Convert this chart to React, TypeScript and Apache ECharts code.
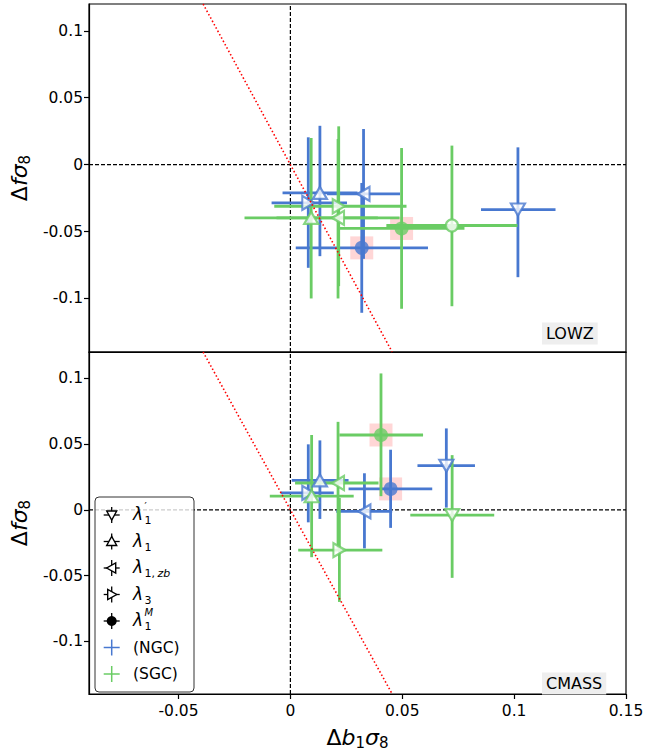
import React, { useEffect, useRef } from "react";
import * as echarts from "echarts";

// ---------- data ----------
// each row: [x, y, xLow, xHigh, yLow, yHigh]
// marker order: l1p (λ'1), l1 (λ1), l1zb (λ1,zb), l3 (λ3), l1M (λ1^M)
const MARKER_KEYS = ["l1p", "l1", "l1zb", "l3", "l1M"];

const LOWZ_NGC = [
  [0.1017, -0.0336, 0.0852, 0.1185, -0.0841, 0.0129],
  [0.0132, -0.0211, -0.0035, 0.03, -0.0684, 0.029],
  [0.0327, -0.0219, 0.0164, 0.049, -0.0704, 0.0266],
  [0.008, -0.0286, -0.0084, 0.0253, -0.0771, 0.0204],
  [0.0319, -0.0622, 0.0024, 0.0615, -0.1107, -0.0137],
];
const LOWZ_SGC = [
  null,
  [0.0093, -0.0398, -0.0205, 0.0391, -0.1, 0.0199],
  [0.0213, -0.0398, -0.0062, 0.0488, -0.1, 0.0192],
  [0.0216, -0.0311, -0.0072, 0.0519, -0.0908, 0.0286],
  [0.0497, -0.0477, 0.0216, 0.0778, -0.1077, 0.0124],
];
// extra open-circle point in LOWZ (SGC)
const LOWZ_SGC_OPEN = [[0.0722, -0.0455, 0.0429, 0.1015, -0.1058, 0.0142]];

const CMASS_NGC = [
  [0.0697, 0.0336, 0.0568, 0.0825, 0.0017, 0.0619],
  [0.0132, 0.0224, 0.0006, 0.026, -0.0069, 0.0528],
  [0.0331, -0.0012, 0.0205, 0.0455, -0.0293, 0.0278],
  [0.008, 0.0129, -0.0043, 0.0194, -0.0095, 0.0498],
  [0.0448, 0.0159, 0.026, 0.0634, -0.0137, 0.0457],
];
const CMASS_SGC = [
  [0.0723, -0.004, 0.0536, 0.0911, -0.0517, 0.0416],
  [0.0095, 0.0104, -0.0092, 0.0283, -0.036, 0.0569],
  [0.0213, 0.0204, 0.0021, 0.0394, -0.0293, 0.0669],
  [0.0219, -0.0306, 0.0035, 0.0411, -0.07, 0.009],
  [0.0405, 0.0569, 0.0219, 0.0593, 0.0104, 0.1037],
];

const RED_LINE = [
  [-0.039, 0.12],
  [0.0455, -0.14],
];
const X_RANGE = [-0.09, 0.15];
const Y_RANGE = [-0.14, 0.12];
const X_TICKS = [-0.05, 0, 0.05, 0.1, 0.15];
const Y_TICKS = [-0.1, -0.05, 0, 0.05, 0.1];
const PANEL_LABELS = ["LOWZ", "CMASS"];

// ---------- styles ----------
const BLUE = "#4878d0";
const GREEN = "#6acc64";
const FONT = "DejaVu Sans";

const SYMBOLS: Record<string, any> = {
  l1p: { symbol: "triangle", rotate: 180, open: true },
  l1: { symbol: "triangle", rotate: 0, open: true },
  l1zb: { symbol: "triangle", rotate: 90, open: true },
  l3: { symbol: "triangle", rotate: -90, open: true },
  l1M: { symbol: "circle", rotate: 0, open: false },
};

function errorSeries(rows: any[], color: string, gridIdx: number) {
  return {
    type: "custom",
    xAxisIndex: gridIdx,
    yAxisIndex: gridIdx,
    z: 3,
    encode: { x: [0, 2, 3], y: [1, 4, 5] },
    data: rows,
    renderItem: (params: any, api: any) => {
      const x = api.value(0);
      const y = api.value(1);
      const p0 = api.coord([api.value(2), y]);
      const p1 = api.coord([api.value(3), y]);
      const q0 = api.coord([x, api.value(4)]);
      const q1 = api.coord([x, api.value(5)]);
      const style = { stroke: color, lineWidth: 2.8 };
      return {
        type: "group",
        children: [
          { type: "line", shape: { x1: p0[0], y1: p0[1], x2: p1[0], y2: p1[1] }, style },
          { type: "line", shape: { x1: q0[0], y1: q0[1], x2: q1[0], y2: q1[1] }, style },
        ],
      };
    },
  };
}

function markerSeries(rows: any[], keys: string[], color: string, gridIdx: number) {
  const data = rows
    .map((r, i) => {
      if (!r) return null;
      const s = SYMBOLS[keys[i]];
      return {
        value: [r[0], r[1]],
        symbol: s.symbol,
        symbolRotate: s.rotate,
        symbolSize: s.symbol === "circle" ? (s.open ? 12 : 14) : [14, 12],
        itemStyle: s.open
          ? { color: "#fff", borderColor: color, borderWidth: 2.2 }
          : { color: color, borderWidth: 0 },
      };
    })
    .filter((d) => d);
  return {
    type: "scatter",
    xAxisIndex: gridIdx,
    yAxisIndex: gridIdx,
    z: 4,
    data,
  };
}

function highlightSeries(points: any[], gridIdx: number) {
  return {
    type: "scatter",
    xAxisIndex: gridIdx,
    yAxisIndex: gridIdx,
    z: 1,
    symbol: "rect",
    symbolSize: 23,
    itemStyle: { color: "rgba(255,0,0,0.2)" },
    data: points.map((r) => [r[0], r[1]]),
  };
}

function refLines(gridIdx: number) {
  const dash = { color: "#000", width: 1.2, type: [4, 2] };
  return [
    {
      type: "line",
      xAxisIndex: gridIdx,
      yAxisIndex: gridIdx,
      symbol: "none",
      z: 2,
      lineStyle: dash,
      data: [
        [0, Y_RANGE[0]],
        [0, Y_RANGE[1]],
      ],
    },
    {
      type: "line",
      xAxisIndex: gridIdx,
      yAxisIndex: gridIdx,
      symbol: "none",
      z: 2,
      lineStyle: dash,
      data: [
        [X_RANGE[0], 0],
        [X_RANGE[1], 0],
      ],
    },
    {
      type: "line",
      xAxisIndex: gridIdx,
      yAxisIndex: gridIdx,
      symbol: "none",
      z: 5,
      lineStyle: { color: "#ff0000", width: 1.6, type: [1.5, 2.3] },
      data: RED_LINE,
    },
  ];
}

const nameRich = {
  d: { fontSize: 22, fontFamily: FONT, color: "#000", lineHeight: 26 },
  i: { fontSize: 22, fontFamily: FONT, fontStyle: "italic", color: "#000", lineHeight: 26 },
  s: { fontSize: 15, fontFamily: FONT, color: "#000", lineHeight: 13, verticalAlign: "bottom" },
};

function legendGraphics() {
  const els: any[] = [];
  const bx = 95, by = 497, bw = 99, bh = 195;
  els.push({
    type: "rect",
    z: 100,
    shape: { x: bx, y: by, width: bw, height: bh, r: 4 },
    style: { fill: "rgba(255,255,255,0.8)", stroke: "#333", lineWidth: 1 },
  });
  const mx = 111.7;
  const tx = 133;
  const rowY = (i: number) => 515 + 26.5 * i;
  const cross = (y: number, color: string, lw: number) => [
    { type: "line", z: 101, shape: { x1: mx - 8, y1: y, x2: mx + 8, y2: y }, style: { stroke: color, lineWidth: lw } },
    { type: "line", z: 101, shape: { x1: mx, y1: y - 8, x2: mx, y2: y + 8 }, style: { stroke: color, lineWidth: lw } },
  ];
  const tri = (y: number, dir: string) => {
    const h = 5;
    let pts: number[][];
    if (dir === "down") pts = [[mx - h, y - 4], [mx + h, y - 4], [mx, y + 5]];
    else if (dir === "up") pts = [[mx - h, y + 4], [mx + h, y + 4], [mx, y - 5]];
    else if (dir === "left") pts = [[mx + 4, y - h], [mx + 4, y + h], [mx - 5, y]];
    else pts = [[mx - 4, y - h], [mx - 4, y + h], [mx + 5, y]];
    return { type: "polygon", z: 102, shape: { points: pts }, style: { fill: "#fff", stroke: "#000", lineWidth: 1.4 } };
  };
  const dirs = ["down", "up", "left", "right"];
  for (let i = 0; i < 4; i++) {
    els.push(...cross(rowY(i), "#000", 1.3));
    els.push(tri(rowY(i), dirs[i]));
  }
  els.push(...cross(rowY(4), "#000", 1.3));
  els.push({ type: "circle", z: 102, shape: { cx: mx, cy: rowY(4), r: 5 }, style: { fill: "#000" } });
  els.push(...cross(rowY(5), BLUE, 1.5));
  els.push(...cross(rowY(6), GREEN, 1.5));

  const txt = (x: number, y: number, text: string, size: number, italic = false, lh?: number) => ({
    type: "text",
    z: 103,
    x,
    y,
    style: {
      text,
      fontSize: size,
      fontFamily: FONT,
      fontStyle: italic ? "italic" : "normal",
      fill: "#000",
      align: "left",
      verticalAlign: "middle",
      lineHeight: lh || Math.round(size * 1.2),
    },
  });
  const lams = [
    { sub: "1", sup: "\u2032" },
    { sub: "1", sup: "" },
    { sub: "1, zb", sup: "" },
    { sub: "3", sup: "" },
    { sub: "1", sup: "M" },
  ];
  lams.forEach((l, i) => {
    const y = rowY(i);
    els.push(txt(tx, y - 1, "λ", 17, true, 18));
    const subParts = l.sub.split(", ");
    if (subParts.length > 1) {
      els.push(txt(tx + 11.5, y + 5.5, "1,", 11, false, 11));
      els.push(txt(tx + 24.5, y + 5.5, "zb", 11, true, 11));
    } else {
      els.push(txt(tx + 11.5, y + 5.5, l.sub, 11, false, 11));
    }
    if (l.sup) els.push(txt(tx + 11.5, y - 9, l.sup, 10, l.sup === "M", 10));
  });
  els.push(txt(tx, rowY(5), "(NGC)", 15.5));
  els.push(txt(tx, rowY(6), "(SGC)", 15.5));
  return els;
}

export default function App() {
  const ref = useRef<HTMLDivElement>(null);
  useEffect(() => {
    if (!ref.current) return;
    const chart = echarts.init(ref.current, null, { renderer: "svg" });
    const grids = [
      { left: 86, top: 4, width: 540, height: 348 },
      { left: 86, top: 352, width: 540, height: 348 },
    ];
    const xAxes = grids.map((_, gi) => ({
      type: "value",
      gridIndex: gi,
      min: X_RANGE[0],
      max: X_RANGE[1],
      splitLine: { show: false },
      axisLine: { show: true, onZero: false, lineStyle: { color: "#000", width: 1.2 } },
      axisTick: gi === 1 ? { show: true, inside: false, length: 5, customValues: X_TICKS, lineStyle: { color: "#000", width: 1.2 } } : { show: false },
      axisLabel:
        gi === 1
          ? { show: true, customValues: X_TICKS, margin: 9, fontSize: 15.5, fontFamily: FONT, color: "#000", formatter: (v: number) => String(v) }
          : { show: false },
      name: gi === 1 ? "{d|Δ}{i|b}{s|1}{i|σ}{s|8}" : "",
      nameLocation: "middle",
      nameGap: 30,
      nameTextStyle: { rich: nameRich },
    }));
    const yAxes = grids.map((_, gi) => ({
      type: "value",
      gridIndex: gi,
      min: Y_RANGE[0],
      max: Y_RANGE[1],
      splitLine: { show: false },
      axisLine: { show: true, onZero: false, lineStyle: { color: "#000", width: 1.2 } },
      axisTick: { show: true, inside: false, length: 5, customValues: Y_TICKS, lineStyle: { color: "#000", width: 1.2 } },
      axisLabel: { show: true, customValues: Y_TICKS, margin: 6, fontSize: 15.5, fontFamily: FONT, color: "#000", formatter: (v: number) => String(v) },
      name: "{d|Δ}{i|fσ}{s|8}",
      nameLocation: "middle",
      nameRotate: 90,
      nameGap: 49,
      nameTextStyle: { rich: nameRich },
    }));

    const series: any[] = [];
    const panels = [
      { ngc: LOWZ_NGC, sgc: LOWZ_SGC },
      { ngc: CMASS_NGC, sgc: CMASS_SGC },
    ];
    panels.forEach((p, gi) => {
      series.push(...refLines(gi));
      series.push(highlightSeries([p.ngc[4], p.sgc[4]], gi));
      series.push(errorSeries(p.ngc.filter((r) => r), BLUE, gi));
      series.push(errorSeries(p.sgc.filter((r) => r), GREEN, gi));
      if (gi === 0) series.push(errorSeries(LOWZ_SGC_OPEN, GREEN, gi));
      series.push(markerSeries(p.ngc, MARKER_KEYS, BLUE, gi));
      series.push(markerSeries(p.sgc, MARKER_KEYS, GREEN, gi));
      if (gi === 0) {
        series.push({
          type: "scatter",
          xAxisIndex: 0,
          yAxisIndex: 0,
          z: 4,
          symbol: "circle",
          symbolSize: 12,
          itemStyle: { color: "#fff", borderColor: GREEN, borderWidth: 2.2 },
          data: LOWZ_SGC_OPEN.map((r) => [r[0], r[1]]),
        });
      }
    });

    const labelY = [333.5, 683.5];
    const graphic: any[] = PANEL_LABELS.map((t, i) => ({
      type: "text",
      z: 50,
      x: 542,
      y: labelY[i],
      style: {
        text: t,
        fontSize: 16,
        fontFamily: FONT,
        fill: "#000",
        align: "left",
        verticalAlign: "middle",
        backgroundColor: "#eeeeee",
        padding: [3, 4, 3, 4],
      },
    }));
    graphic.push(...legendGraphics());

    chart.setOption({
      animation: false,
      backgroundColor: "#fff",
      grid: grids.map((g) => ({ ...g, show: true, borderColor: "#000", borderWidth: 1.2, backgroundColor: "transparent" })),
      xAxis: xAxes,
      yAxis: yAxes,
      series,
      graphic,
    });
    return () => chart.dispose();
  }, []);
  return <div ref={ref} style={{ position: "absolute", left: 0, top: 0, width: 667, height: 751 }} />;
}
